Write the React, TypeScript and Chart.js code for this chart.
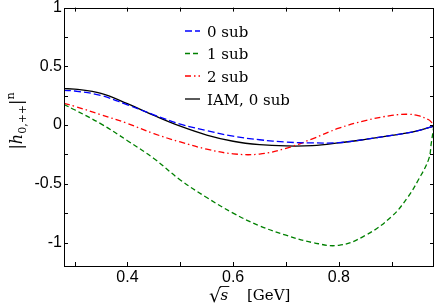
import React, { useEffect, useRef } from 'react';
import { Chart, registerables } from 'chart.js';

Chart.register(...registerables);

const xValues = [0.28, 0.30, 0.35, 0.40, 0.45, 0.50, 0.55, 0.60, 0.65, 0.70, 0.75, 0.80, 0.85, 0.90, 0.93, 0.95, 0.97, 0.975, 0.98];
const sub0 = [0.295, 0.29, 0.252, 0.172, 0.087, 0.008, -0.047, -0.095, -0.125, -0.145, -0.152, -0.15, -0.122, -0.088, -0.067, -0.048, -0.022, -0.016, -0.01];
const sub1 = [0.175, 0.13, 0.01, -0.133, -0.285, -0.467, -0.617, -0.75, -0.858, -0.938, -1.0, -1.024, -0.94, -0.778, -0.617, -0.47, -0.29, -0.15, 0.0];
const sub2 = [0.185, 0.16, 0.088, 0.014, -0.073, -0.144, -0.205, -0.245, -0.247, -0.198, -0.117, -0.027, 0.038, 0.082, 0.092, 0.08, 0.045, 0.025, 0.0];
const iam0 = [0.31, 0.306, 0.27, 0.182, 0.082, -0.01, -0.085, -0.138, -0.167, -0.178, -0.175, -0.152, -0.122, -0.088, -0.067, -0.048, -0.022, -0.016, -0.01];

const seriesLabels = ['0 sub', '1 sub', '2 sub', 'IAM, 0 sub'];
const seriesColors = ['#0000ff', '#008000', '#ff0000', '#000000'];
const seriesDashes = [[7, 3], [5, 3], [6, 3, 1.5, 3], []];
const xTickLabels = [0.4, 0.6, 0.8];
const yTickLabels = [-1, -0.5, 0, 0.5, 1];
const xMinorTicks = [0.3, 0.4, 0.5, 0.6, 0.7, 0.8, 0.9];
const yMinorTicks = [-1, -0.75, -0.5, -0.25, 0, 0.25, 0.5, 0.75];

const SERIF = '"DejaVu Serif", serif';

const decorPlugin = {
  id: 'decor',
  afterDraw(chart: any) {
    const ctx = chart.ctx as CanvasRenderingContext2D;
    const { left, right, top, bottom } = chart.chartArea;
    const xs = chart.scales.x;
    const ys = chart.scales.y;
    ctx.save();
    // frame
    ctx.strokeStyle = '#000';
    ctx.lineWidth = 1;
    ctx.setLineDash([]);
    ctx.strokeRect(Math.round(left) + 0.5, Math.round(top) + 0.5, Math.round(right - left) - 1, Math.round(bottom - top));
    // ticks inward
    const tl = 4;
    ctx.beginPath();
    xMinorTicks.forEach((v) => {
      const px = Math.round(xs.getPixelForValue(v)) + 0.5;
      ctx.moveTo(px, bottom);
      ctx.lineTo(px, bottom - tl);
      ctx.moveTo(px, top);
      ctx.lineTo(px, top + tl);
    });
    yMinorTicks.forEach((v) => {
      const py = Math.round(ys.getPixelForValue(v)) + 0.5;
      ctx.moveTo(left, py);
      ctx.lineTo(left + tl, py);
      ctx.moveTo(right, py);
      ctx.lineTo(right - tl, py);
    });
    ctx.stroke();

    // legend
    const lx0 = 185, lx1 = 200, tx = 207;
    const baselines = [36.5, 59, 81.5, 104.5];
    ctx.font = `15px ${SERIF}`;
    ctx.textBaseline = 'alphabetic';
    ctx.textAlign = 'left';
    seriesLabels.forEach((lab, i) => {
      const ly = baselines[i] - 5.5;
      ctx.strokeStyle = seriesColors[i];
      ctx.lineWidth = 1.3;
      ctx.setLineDash(seriesDashes[i]);
      ctx.beginPath();
      ctx.moveTo(lx0, ly);
      ctx.lineTo(lx1, ly);
      ctx.stroke();
      ctx.setLineDash([]);
      ctx.fillStyle = '#000';
      ctx.fillText(lab, tx, baselines[i]);
    });

    // x title: √s  [GeV]
    ctx.fillStyle = '#000';
    ctx.strokeStyle = '#000';
    ctx.setLineDash([]);
    const xb = 300;
    let cx = 209;
    ctx.font = `19px ${SERIF}`;
    const rm = ctx.measureText('\u221A');
    ctx.fillText('\u221A', cx, xb + 2);
    const rTop = xb + 2 - (rm.actualBoundingBoxAscent || 15);
    cx += rm.width - 0.5;
    ctx.font = `italic 15px ${SERIF}`;
    ctx.fillText('s', cx, xb);
    const sw = ctx.measureText('s').width;
    ctx.lineWidth = 0.9;
    ctx.beginPath();
    ctx.moveTo(cx - 0.5, rTop + 0.5);
    ctx.lineTo(cx + sw + 1, rTop + 0.5);
    ctx.stroke();
    ctx.font = `15px ${SERIF}`;
    ctx.fillText('[GeV]', 247, xb);

    // y title: |h_{0,++}|^n rotated
    ctx.save();
    ctx.translate(22, 121);
    ctx.rotate(-Math.PI / 2);
    const big = `16px ${SERIF}`;
    const bigI = `italic 16px ${SERIF}`;
    const small = `11px ${SERIF}`;
    const parts: [string, string, number][] = [
      ['|', big, 0],
      ['h', bigI, 0],
      ['0,++', small, 4],
      ['|', big, 0],
      ['n', small, -8],
    ];
    let total = 0;
    parts.forEach(([t, f]) => {
      ctx.font = f;
      total += ctx.measureText(t).width;
    });
    let px = -total / 2;
    parts.forEach(([t, f, dy]) => {
      ctx.font = f;
      ctx.fillText(t, px, dy);
      px += ctx.measureText(t).width;
    });
    ctx.restore();

    ctx.restore();
  },
};

export default function App() {
  const ref = useRef<HTMLCanvasElement | null>(null);
  useEffect(() => {
    if (!ref.current) return;
    const mk = (vals: number[]) => xValues.map((x, i) => ({ x, y: vals[i] }));
    const allSeries = [sub0, sub1, sub2, iam0];
    const chart = new Chart(ref.current, {
      type: 'line',
      data: {
        datasets: allSeries.map((vals, i) => ({
          label: seriesLabels[i],
          data: mk(vals),
          borderColor: seriesColors[i],
          borderDash: seriesDashes[i],
          borderWidth: 1.3,
          pointRadius: 0,
          fill: false,
          tension: 0.4,
        })),
      },
      options: {
        animation: false,
        responsive: false,
        maintainAspectRatio: false,
        layout: { padding: { top: 6, right: 2, left: 0, bottom: 0 } },
        plugins: { legend: { display: false }, tooltip: { enabled: false } },
        scales: {
          x: {
            type: 'linear',
            min: 0.28,
            max: 0.98,
            grid: { display: false, drawTicks: false },
            border: { display: false },
            afterBuildTicks: (s: any) => {
              s.ticks = xTickLabels.map((v) => ({ value: v }));
            },
            afterFit: (s: any) => {
              s.height = 39;
            },
            ticks: {
              padding: 2,
              color: '#000',
              font: { family: '"Liberation Sans", Arial, sans-serif', size: 16 },
              maxRotation: 0,
              callback: (v: any) => String(Number(v)),
            },
          },
          y: {
            type: 'linear',
            min: -1.2,
            max: 1,
            grid: { display: false, drawTicks: false },
            border: { display: false },
            afterBuildTicks: (s: any) => {
              s.ticks = yTickLabels.map((v) => ({ value: v }));
            },
            afterFit: (s: any) => {
              s.width = 64;
            },
            ticks: {
              padding: 2,
              color: '#000',
              font: { family: '"Liberation Sans", Arial, sans-serif', size: 16, lineHeight: 0.7 },
              callback: (v: any) => String(Number(v)),
            },
          },
        },
      },
      plugins: [decorPlugin],
    });
    return () => chart.destroy();
  }, []);
  return (
    <div style={{ position: 'fixed', left: 0, top: 0, width: 436, height: 305, background: '#fff' }}>
      <canvas ref={ref} width={436} height={305} style={{ width: 436, height: 305, display: 'block' }} />
    </div>
  );
}
